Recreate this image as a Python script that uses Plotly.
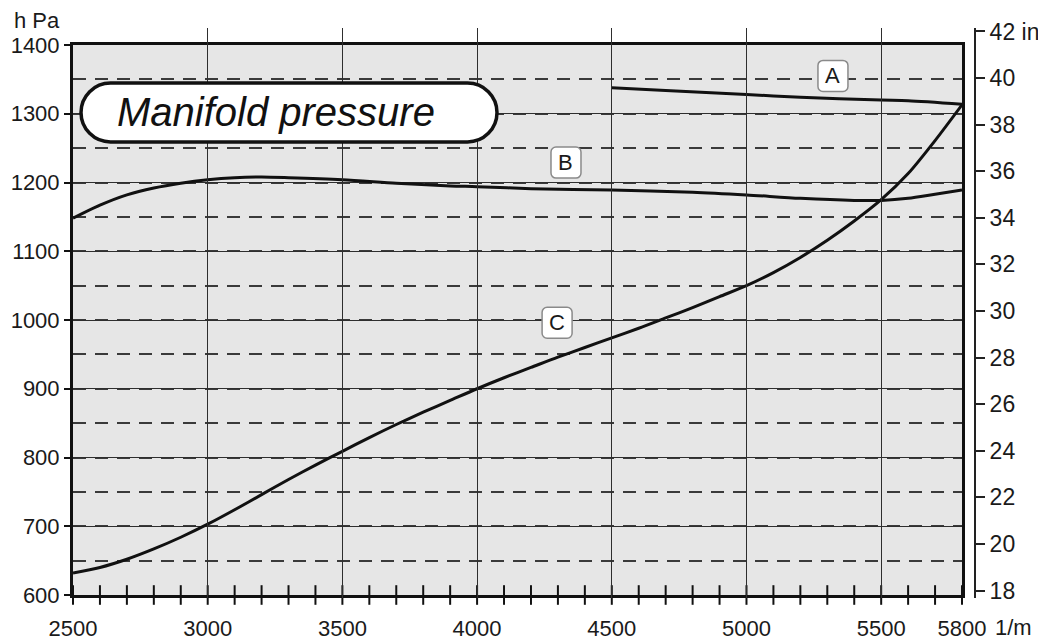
import plotly.graph_objects as go

# ---------------- data ----------------
rpm_A = [4500, 4700, 5000, 5200, 5500, 5600, 5800]
p_A = [1338, 1334, 1328, 1324, 1320, 1319, 1314]

rpm_B = [2500, 2600, 2700, 2800, 2900, 3000, 3100, 3200, 3300, 3500, 3700, 3900,
         4000, 4200, 4500, 4800, 5000, 5200, 5400, 5500, 5600, 5700, 5800]
p_B = [1148, 1167, 1182, 1192, 1199, 1204, 1207, 1208, 1207, 1204, 1199, 1195,
       1194, 1191, 1189, 1186, 1182, 1177, 1174, 1174, 1177, 1183, 1189]

rpm_C = [2500, 2600, 2700, 2800, 2900, 3000, 3100, 3200, 3300, 3400, 3500, 3600,
         3700, 3800, 3900, 4000, 4100, 4200, 4300, 4400, 4500, 4600, 4700, 4800,
         4900, 5000, 5100, 5200, 5300, 5400, 5500, 5600, 5700, 5800]
p_C = [632, 640, 652, 667, 684, 703, 724, 746, 768, 789, 809, 829,
       848, 866, 883, 900, 916, 931, 946, 960, 974, 988, 1003, 1018,
       1034, 1050, 1069, 1091, 1116, 1144, 1175, 1213, 1261, 1313]

curve_labels = ["A", "B", "C"]
label_rpm = [5321, 4330, 4297]
label_hpa = [1355, 1229, 996]

x_tickvals = [2500, 3000, 3500, 4000, 4500, 5000, 5500, 5800]
x_minor_ticks = list(range(2500, 5801, 100))
y_tickvals = [600, 700, 800, 900, 1000, 1100, 1200, 1300, 1400]
inhg_tickvals = [18, 20, 22, 24, 26, 28, 30, 32, 34, 36, 38, 40, 42]
inhg_ticktext = ["18", "20", "22", "24", "26", "28", "30", "32", "34", "36", "38", "40", "42 in"]

title_text = "Manifold pressure"

# ---------------- figure ----------------
# the page body adds an 8 px offset; layout numbers below are in figure pixels
OFF = 8
W, H = 1046, 641
ML, MR, MT, MB = 65, 64, 12, 48
PW, PH = W - ML - MR, H - MT - MB


def px_x(screen_x):
    return (screen_x - OFF - ML) / PW


def px_y(screen_y):
    return (H - MB - (screen_y - OFF)) / PH


FONT = "Liberation Sans, Arial, sans-serif"
INK = "#1a1a1a"

fig = go.Figure()

line_style = dict(color="#111111", width=3, shape="spline", smoothing=0.8)
fig.add_trace(go.Scatter(x=rpm_C, y=p_C, mode="lines", line=line_style, hoverinfo="skip"))
fig.add_trace(go.Scatter(x=rpm_B, y=p_B, mode="lines", line=line_style, hoverinfo="skip"))
fig.add_trace(go.Scatter(x=rpm_A, y=p_A, mode="lines", line=line_style, hoverinfo="skip"))

# crossing x ticks every 100 rpm
fig.add_trace(go.Scatter(
    x=x_minor_ticks, y=[600] * len(x_minor_ticks), mode="markers",
    marker=dict(symbol="line-ns-open", size=14, color="#111111",
                line=dict(color="#111111", width=2)),
    cliponaxis=False, hoverinfo="skip"))

# dummy trace so the inHg axis is drawn
fig.add_trace(go.Scatter(x=[None], y=[None], yaxis="y2", hoverinfo="skip"))


def rounded_path(x0, x1, y0, y1, r):
    k = 0.5523 * r
    return (f"M {x0 + r},{y1} L {x1 - r},{y1} "
            f"C {x1 - r + k},{y1} {x1},{y1 - r + k} {x1},{y1 - r} "
            f"L {x1},{y0 + r} "
            f"C {x1},{y0 + r - k} {x1 - r + k},{y0} {x1 - r},{y0} "
            f"L {x0 + r},{y0} "
            f"C {x0 + r - k},{y0} {x0},{y0 + r - k} {x0},{y0 + r} "
            f"L {x0},{y1 - r} "
            f"C {x0},{y1 - r + k} {x0 + r - k},{y1} {x0 + r},{y1} Z")


shapes = [
    # plot background
    dict(type="rect", xref="x domain", yref="y domain", x0=0, x1=1, y0=0, y1=1,
         fillcolor="#e6e6e6", line=dict(width=0), layer="below"),
    # title pill
    dict(type="path", xref="x", yref="y", xsizemode="pixel", ysizemode="pixel",
         xanchor=2500, yanchor=1400,
         path=rounded_path(8, 424, -97, -38, 29.5),
         fillcolor="white", line=dict(color="#111111", width=3.5), layer="above"),
]
annotations = []
for lab, xr, yh in zip(curve_labels, label_rpm, label_hpa):
    shapes.append(dict(type="path", xref="x", yref="y", xsizemode="pixel", ysizemode="pixel",
                       xanchor=xr, yanchor=yh, path=rounded_path(-15, 15, -15.5, 15.5, 5),
                       fillcolor="white", line=dict(color="#8a8a8a", width=1.5), layer="above"))
    annotations.append(dict(x=xr, y=yh, xref="x", yref="y", text=lab, showarrow=False,
                            xanchor="center", yanchor="middle",
                            font=dict(family=FONT, size=22, color=INK)))

annotations += [
    dict(x=2500, y=1400, xref="x", yref="y", text=title_text, showarrow=False,
         xanchor="center", yanchor="middle", xshift=203, yshift=-67,
         font=dict(family=FONT, size=40, color="#111111", style="italic")),
    dict(x=2500, y=1400, xref="x", yref="y", text="h Pa", showarrow=False,
         xanchor="right", yanchor="middle", xshift=-11, yshift=25,
         font=dict(family=FONT, size=22, color=INK)),
    dict(x=5800, y=600, xref="x", yref="y", text="1/m", showarrow=False,
         xanchor="left", yanchor="middle", xshift=31, yshift=-32,
         font=dict(family=FONT, size=22, color=INK)),
]

fig.update_layout(
    width=W, height=H,
    margin=dict(l=ML, r=MR, t=MT, b=MB, pad=0, autoexpand=False),
    paper_bgcolor="white", plot_bgcolor="rgba(0,0,0,0)",
    showlegend=False,
    font=dict(family=FONT, size=22, color=INK),
    shapes=shapes, annotations=annotations,
    xaxis=dict(
        range=[2500, 5800], domain=[px_x(73), px_x(962)], anchor="y", automargin=False,
        tickvals=x_tickvals, ticks="", ticklabelstandoff=12,
        showgrid=True, gridcolor="#2e2e2e", gridwidth=1.3,
        showline=True, mirror=True, linecolor="#111111", linewidth=3,
        zeroline=False, tickfont=dict(size=22),
    ),
    yaxis=dict(
        range=[600, 1400], domain=[px_y(595), px_y(45)], anchor="x", automargin=False,
        tickvals=y_tickvals, ticks="outside", ticklen=6, tickwidth=2, tickcolor="#111111",
        showgrid=True, gridcolor="#2e2e2e", gridwidth=1.3,
        minor=dict(tick0=650, dtick=50, showgrid=True, gridcolor="#3a3a3a",
                   gridwidth=1.6, griddash="13px,9px", ticks=""),
        showline=True, mirror=True, linecolor="#111111", linewidth=3,
        zeroline=False, tickfont=dict(size=22),
    ),
    yaxis2=dict(
        range=[17.68, 42.15], domain=[px_y(598), px_y(28)], automargin=False,
        anchor="free", position=px_x(975), side="right",
        tickvals=inhg_tickvals, ticktext=inhg_ticktext,
        ticks="outside", ticklen=9, tickwidth=2, tickcolor="#222222",
        showline=True, linecolor="#222222", linewidth=2,
        showgrid=False, zeroline=False, tickfont=dict(size=23),
    ),
)

fig.write_html("out.html")
